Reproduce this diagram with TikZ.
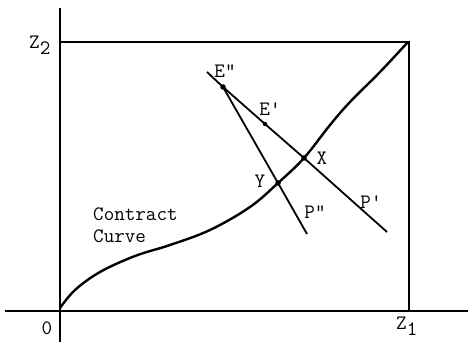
\documentclass[tikz,border=0pt]{standalone}
\usepackage{fontspec}
\begin{document}
\begin{tikzpicture}[x=1pt,y=-1pt,
  axis/.style={line width=1.8pt},
  curvel/.style={line width=2.4pt,line cap=round,line join=round},
  budget/.style={line width=1.8pt},
  lbl/.style={font=\ttfamily\fontsize{20.5}{24}\selectfont,inner sep=0pt},
  dotpt/.style={circle,fill=black,inner sep=0pt,minimum size=5.5pt}]
\useasboundingbox (0,0) rectangle (468,352);
% axes and box
\coordinate (O) at (60,311);
\coordinate (ytop) at (60,8);
\coordinate (ybot) at (60,342);
\coordinate (xl) at (5,311);
\coordinate (xr) at (468,311);
\coordinate (TL) at (60,42);
\coordinate (TR) at (409,42);
\coordinate (BR) at (409,311);
\draw[axis] (ytop) -- (ybot);
\draw[axis] (xl) -- (xr);
\draw[axis] (TL) -- (TR) -- (BR);
% points
\node[dotpt] (E2) at (223,87) {};
\node[dotpt,minimum size=4.5pt] (E1) at (265,124) {};
\node[dotpt] (X) at (304,158) {};
\node[dotpt] (Y) at (278,183) {};
\coordinate (Lstart) at (207,72);
\coordinate (Pone) at (387,232);
\coordinate (Ptwo) at (307,234);
% budget lines
\draw[budget] (Lstart) -- (E2.center) -- (E1.center) -- (X.center) -- (Pone);
\draw[budget] (E2.center) -- (Y.center) -- (Ptwo);
% contract curve
\draw[curvel] plot[smooth,tension=0.6] coordinates {(60,308) (75,290) (100,272) (135,256) (170,245) (210,230) (250,207) (278,183) (304,158) (330,125) (350,102) (380,72) (408,42)};
% labels
\node[lbl] (lE2) at (225,71) {E"};
\node[lbl] (lE1) at (270,109) {E'};
\node[lbl] (lX) at (322,158) {X};
\node[lbl] (lY) at (260,181) {Y};
\node[lbl] (lP2) at (315,212) {P"};
\node[lbl] (lP1) at (371,202) {P'};
\node[lbl,anchor=west] (lC1) at (93,214) {Contract};
\node[lbl,anchor=west] (lC2) at (93,236) {Curve};
\node[lbl] (l0) at (47,328) {0};
\node[lbl,anchor=west] (lZ1) at (396,326) {Z\raisebox{-6pt}{1}};
\node[lbl,anchor=west] (lZ2) at (29,45) {Z\raisebox{-6pt}{2}};
\end{tikzpicture}
\end{document}
